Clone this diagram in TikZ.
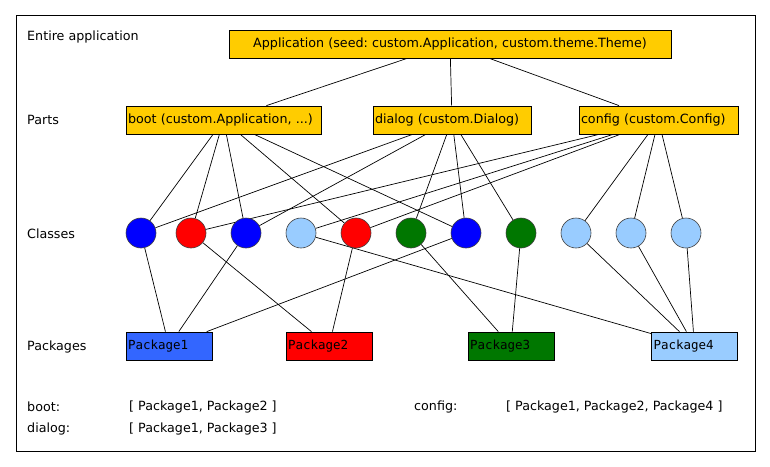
\documentclass[tikz,border=0pt]{standalone}
\usepackage{fontspec}
\setmainfont{DejaVu Sans}
\setmonofont{DejaVu Sans Mono}
\usetikzlibrary{backgrounds}
\definecolor{gold}{HTML}{FFCC00}
\definecolor{cblue}{HTML}{0000FF}
\definecolor{cred}{HTML}{FF0000}
\definecolor{cgreen}{HTML}{007700}
\definecolor{clight}{HTML}{99CCFF}
\definecolor{pblue}{HTML}{3366FF}
\frenchspacing
\begin{document}
\begin{tikzpicture}[x=1pt,y=-1pt,
  font=\fontsize{12.7}{14}\selectfont,
  box/.style={draw=black, line width=0.8pt, fill=gold, minimum height=28pt, inner xsep=2pt, inner ysep=0pt, align=left},
  cls/.style={circle, draw=black!75, line width=0.6pt, minimum size=30pt, inner sep=0pt},
  pkg/.style={draw=black, line width=0.8pt, minimum height=28pt, minimum width=86pt, text width=82pt, inner xsep=2pt, inner ysep=0pt, align=left, font=\fontsize{12.5}{14}\ttfamily},
  link/.style={draw=black, line width=0.7pt},
  lbl/.style={anchor=west, inner sep=0pt}]
\useasboundingbox (0,0) rectangle (770,466);
\draw[line width=0.8pt] (16,15) rectangle (755,451);

% level labels
\node[lbl] (l1) at (27,37) {Entire application};
\node[lbl] (l2) at (27,120) {Parts};
\node[lbl] (l3) at (27,234) {Classes};
\node[lbl] (l4) at (27,347) {Packages};

% application and parts
\node[box, minimum width=442pt, text width=438pt, align=center] (app) at (450,44) {Application (seed: custom.Application, custom.theme.Theme)};
\node[box, minimum width=195pt, text width=191pt] (boot) at (223.5,120) {boot (custom.Application, ...)};
\node[box, minimum width=158pt, text width=154pt] (dialog) at (452,120) {dialog (custom.Dialog)};
\node[box, minimum width=159pt, text width=155pt] (config) at (658.5,120) {config (custom.Config)};

% classes
\node[cls, fill=cblue]  (c1)  at (141,233) {};
\node[cls, fill=cred]   (c2)  at (191,233) {};
\node[cls, fill=cblue]  (c3)  at (246,233) {};
\node[cls, fill=clight] (c4)  at (301,233) {};
\node[cls, fill=cred]   (c5)  at (356,233) {};
\node[cls, fill=cgreen] (c6)  at (411,233) {};
\node[cls, fill=cblue]  (c7)  at (466,233) {};
\node[cls, fill=cgreen] (c8)  at (521,233) {};
\node[cls, fill=clight] (c9)  at (576,233) {};
\node[cls, fill=clight] (c10) at (631,233) {};
\node[cls, fill=clight] (c11) at (686,233) {};

% packages
\node[pkg, fill=pblue]  (p1) at (169,346) {Package1};
\node[pkg, fill=cred]   (p2) at (329,346) {Package2};
\node[pkg, fill=cgreen] (p3) at (511,346) {Package3};
\node[pkg, fill=clight] (p4) at (694.5,346) {Package4};

% summary
\node[lbl] (s1) at (27,407) {boot:};
\node[lbl] (s2) at (129,407) {[ Package1, Package2 ]};
\node[lbl] (s3) at (27,429) {dialog:};
\node[lbl] (s4) at (129,429) {[ Package1, Package3 ]};
\node[lbl] (s5) at (414,407) {config:};
\node[lbl] (s6) at (506,407) {[ Package1, Package2, Package4 ]};

\begin{scope}[on background layer]
\draw[link] (app) -- (boot);
\draw[link] (app) -- (dialog);
\draw[link] (app) -- (config);
\foreach \c in {c1,c2,c3,c5,c7} \draw[link] (boot) -- (\c);
\foreach \c in {c1,c3,c6,c7,c8} \draw[link] (dialog) -- (\c);
\foreach \c in {c2,c4,c5,c9,c10,c11} \draw[link] (config) -- (\c);
\foreach \c in {c1,c3,c7} \draw[link] (\c) -- (p1);
\foreach \c in {c2,c5} \draw[link] (\c) -- (p2);
\foreach \c in {c6,c8} \draw[link] (\c) -- (p3);
\foreach \c in {c4,c9,c10,c11} \draw[link] (\c) -- (p4);
\end{scope}
\end{tikzpicture}
\end{document}
